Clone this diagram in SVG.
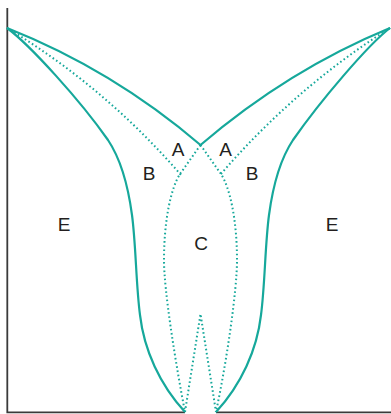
<svg xmlns="http://www.w3.org/2000/svg" width="391" height="414" viewBox="0 0 391 414">
<style>
.axis{fill:none;stroke:#3a3a3a;stroke-width:1.8}
.solid{fill:none;stroke:#16a89b;stroke-width:2.2;stroke-linejoin:miter}
.dot{fill:none;stroke:#16a89b;stroke-width:2;stroke-dasharray:1.6 2.6}
.lbl{font-family:"Liberation Sans",Arial,sans-serif;font-size:19px;fill:#231f20;text-anchor:middle}
</style>
<rect width="391" height="414" fill="#fff"/>
<g id="axes">
<path class="axis" d="M7.3,8 V412.3 H185 M216,412.3 H391"/>
</g>
<g id="connectors">
<path class="solid" d="M7,28 Q113,70 200.5,145 Q288,70 390,28"/>
<path class="solid" d="M7,28 C30,45 80,100 108,140 C120,158 128,185 132,215 C136,245 136,285 140,315 C144,350 160,385 185,412"/>
<path class="solid" d="M390,28 C368,45 321,100 293,140 C281,158 273,185 269,215 C265,245 265,285 261,315 C257,350 241,385 216,412"/>
<path class="dot" d="M7,28 Q105,87 181,175"/>
<path class="dot" d="M390,28 Q296,87 220,175"/>
<path class="dot" d="M200.5,145 L180,174 C171,188 164,220 164,260 C164,290 175,360 185,412"/>
<path class="dot" d="M200.5,145 L221,174 C230,188 237,220 237,260 C237,290 227,360 216,412"/>
<path class="dot" d="M185,412 L200.5,314 L216,412"/>
</g>
<g id="labels">
<text class="lbl" x="178" y="156">A</text>
<text class="lbl" x="225.5" y="156">A</text>
<text class="lbl" x="149" y="180">B</text>
<text class="lbl" x="252" y="180">B</text>
<text class="lbl" x="64" y="231">E</text>
<text class="lbl" x="332" y="231">E</text>
<text class="lbl" x="201" y="250">C</text>
</g>
</svg>
